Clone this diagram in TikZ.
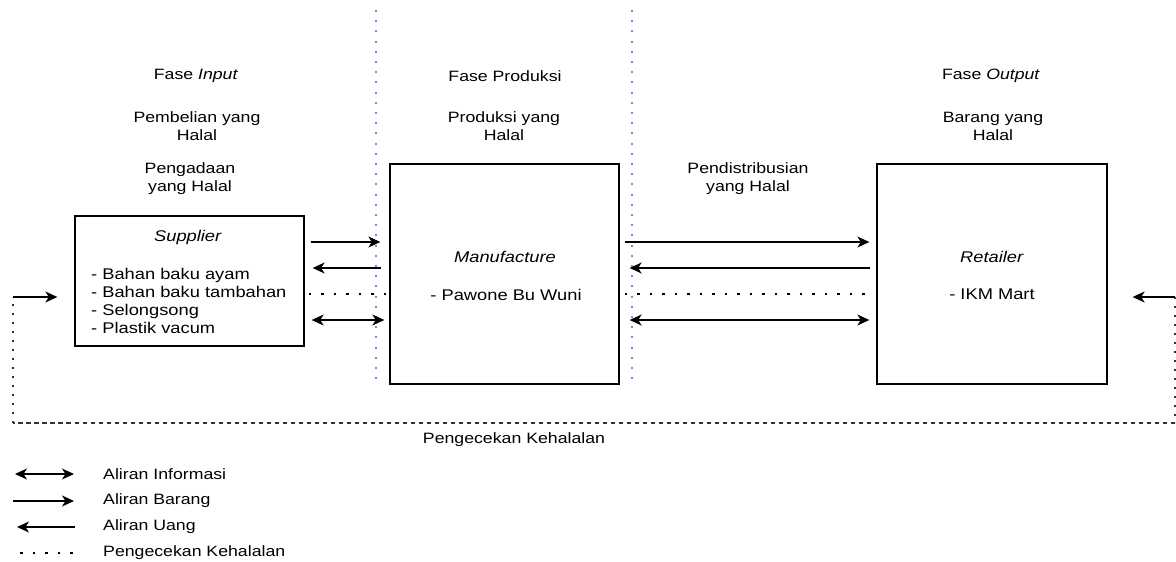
\documentclass[tikz,border=0pt]{standalone}
\usepackage{fontspec}
\setmainfont{Liberation Sans}[FakeStretch=1.18]
\usetikzlibrary{arrows.meta,positioning}
\definecolor{biru}{RGB}{110,145,210}
\definecolor{abu}{RGB}{50,50,50}

\begin{document}
\begin{tikzpicture}[x=1pt,y=-1pt,
	>={Stealth[length=12pt,width=11pt,inset=3.5pt]},
	kotak/.style={draw,line width=1.3pt,minimum width=229pt,inner sep=0pt},
	tulis/.style={font=\fontsize{15}{18}\selectfont,align=center,inner sep=0pt},
	isi/.style={font=\fontsize{15.5}{18}\selectfont,inner sep=0pt},
	aliran/.style={line width=1.3pt},
	titik/.style={line width=2.6pt,dash pattern=on 2.6pt off 9.9pt},
	batas/.style={biru,line width=2pt,dash pattern=on 2pt off 8.2pt},
	cekV/.style={abu,line width=2pt,dash pattern=on 2pt off 7pt},
	cekH/.style={abu,line width=1.1pt,dash pattern=on 4.5pt off 3.5pt}]
\useasboundingbox (0,0) rectangle (1176,562);

% batas fase
\draw[batas] (376,10) -- (376,386);
\draw[batas] (632,10) -- (632,386);

% judul fase
\node[tulis] (fin) at (196,76) {Fase \textit{Input}};
\node[tulis] (beli) at (197,126) {Pembelian yang\\Halal};
\node[tulis] (ada) at (190,179) {Pengadaan\\yang Halal};
\node[tulis] (fpro) at (505,76) {Fase Produksi};
\node[tulis] (pro) at (504,126) {Produksi yang\\Halal};
\node[tulis] (dis) at (748,179) {Pendistribusian\\yang Halal};
\node[tulis] (fout) at (991,76) {Fase \textit{Output}};
\node[tulis] (brg) at (993,126) {Barang yang\\Halal};

% kotak
\node[kotak,minimum height=130pt] (sup) at (189.5,281) {};
\node[kotak,minimum height=220pt] (man) at (504.5,274) {};
\node[kotak,minimum height=220pt,minimum width=230pt] (ret) at (992,274) {};

\node[isi] (supN) at (188,237.5) {\textit{Supplier}};
\node[isi,align=left,anchor=west] (supL) at (91,301) {- Bahan baku ayam\\- Bahan baku tambahan\\- Selongsong\\- Plastik vacum};
\node[isi] (manN) at (505,257) {\textit{Manufacture}};
\node[isi] (manL) at (506,295) {- Pawone Bu Wuni};
\node[isi] (retN) at (992,257) {\textit{Retailer}};
\node[isi] (retL) at (992,294) {- IKM Mart};

% aliran supplier - manufacture
\draw[aliran,->,shorten <=6pt,shorten >=9pt] (sup.east |- 0,242) -- (man.west |- 0,242);
\draw[aliran,<-,shorten <=8pt,shorten >=8pt] (sup.east |- 0,268) -- (man.west |- 0,268);
\draw[titik,shorten <=4pt,shorten >=3pt] (sup.east |- 0,294) -- (man.west |- 0,294);
\draw[aliran,<->,shorten <=7pt,shorten >=5pt] (sup.east |- 0,320) -- (man.west |- 0,320);

% aliran manufacture - retailer
\draw[aliran,->,shorten <=5pt,shorten >=7pt] (man.east |- 0,242) -- (ret.west |- 0,242);
\draw[aliran,<-,shorten <=10pt,shorten >=6pt] (man.east |- 0,268) -- (ret.west |- 0,268);
\draw[titik,shorten <=5pt,shorten >=5pt] (man.east |- 0,294) -- (ret.west |- 0,294);
\draw[aliran,<->,shorten <=10pt,shorten >=7pt] (man.east |- 0,320) -- (ret.west |- 0,320);

% pengecekan kehalalan
\coordinate (kanan) at (1175,297);
\coordinate (kananB) at (1175,423);
\coordinate (kiriB) at (13,423);
\coordinate (kiri) at (13,297);
\draw[aliran,->,shorten >=25pt] (kanan) -- (ret.east |- kanan);
\draw[cekV] (kanan) -- (kananB);
\draw[cekH] (kananB) -- (kiriB);
\draw[cekV] (kiriB) -- (kiri);
\draw[aliran,->,shorten >=17pt] (kiri) -- (sup.west |- kiri);
\node[tulis] (cek) at (514,440) {Pengecekan Kehalalan};

% keterangan
\node[tulis,anchor=west] (kInfo) at (103,474) {Aliran Informasi};
\node[tulis,anchor=west] (kBrg) at (103,501) {Aliran Barang};
\node[tulis,anchor=west] (kUang) at (103,527) {Aliran Uang};
\node[tulis,anchor=west] (kCek) at (103,553) {Pengecekan Kehalalan};
\coordinate (k1) at (15,474);
\coordinate (k2) at (13,501);
\coordinate (k3) at (17,527);
\coordinate (k4) at (20,553);
\draw[aliran,<->,shorten >=29pt] (k1) -- (kInfo);
\draw[aliran,->,shorten >=29pt] (k2) -- (kBrg);
\draw[aliran,<-,shorten >=28pt] (k3) -- (kUang);
\draw[titik,shorten >=29pt] (k4) -- (kCek);
\end{tikzpicture}
\end{document}
